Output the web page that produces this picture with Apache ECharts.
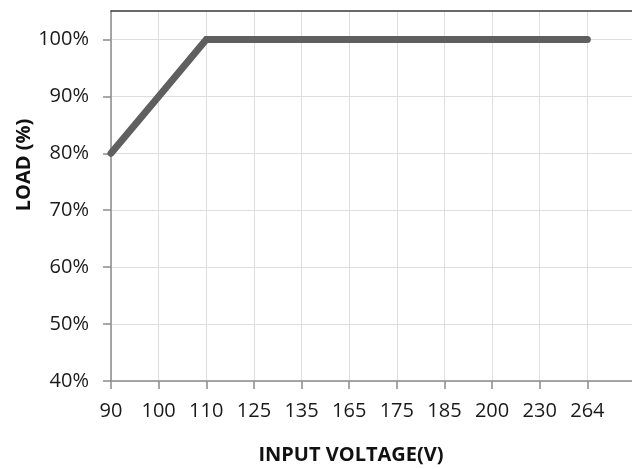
<!DOCTYPE html>
<html>
<head>
<meta charset="utf-8">
<script src="https://cdn.jsdelivr.net/npm/echarts@6/dist/echarts.min.js"></script>
<style>
html,body{margin:0;padding:0;background:#fff;}
#chart{width:632px;height:469px;}
</style>
</head>
<body>
<div id="chart"></div>
<script>
var categories = ['90','100','110','125','135','165','175','185','200','230','264'];
var loadValues = [80, 90, 100, 100, 100, 100, 100, 100, 100, 100, 100];
var yTickValues = [40, 50, 60, 70, 80, 90, 100];
var xTitle = 'INPUT VOLTAGE(V)';
var yTitle = 'LOAD (%)';

var axisCats = categories.concat(['']);
var FONT = '"Open Sans", "Noto Sans", sans-serif';

var chart = echarts.init(document.getElementById('chart'), null, {renderer: 'canvas'});
chart.setOption({
  animation: false,
  backgroundColor: '#ffffff',
  grid: {left: 111, top: 11, bottom: 88, width: 524, containLabel: false, outerBoundsMode: 'none'},
  xAxis: [{
    type: 'category',
    data: axisCats,
    boundaryGap: false,
    name: xTitle,
    nameLocation: 'middle',
    nameGap: 64,
    nameMoveOverlap: false,
    nameTextStyle: {fontFamily: FONT, fontWeight: 'bold', fontSize: 20, color: '#111', padding: [0, 44, 0, 0]},
    axisLine: {show: true, lineStyle: {color: '#8c8c8c', width: 1.5}},
    axisTick: {show: true, length: 8, lineStyle: {color: '#8c8c8c', width: 1.5}},
    axisLabel: {fontFamily: FONT, fontSize: 20, color: '#1a1a1a', margin: 20, interval: 0},
    splitLine: {show: true, lineStyle: {color: '#dedede', width: 1}}
  }, {
    type: 'category',
    data: axisCats,
    boundaryGap: false,
    position: 'top',
    axisLine: {show: true, lineStyle: {color: '#3a3a3a', width: 1.5}},
    axisTick: {show: false},
    axisLabel: {show: false},
    splitLine: {show: false}
  }],
  yAxis: {
    type: 'value',
    min: 40,
    max: 105,
    interval: 10,
    name: yTitle,
    nameLocation: 'middle',
    nameRotate: 90,
    nameGap: 77,
    nameMoveOverlap: false,
    nameTextStyle: {fontFamily: FONT, fontWeight: 'bold', fontSize: 20, color: '#111', padding: [0, 0, 0, 62]},
    axisLine: {show: true, lineStyle: {color: '#8c8c8c', width: 1.5}},
    axisTick: {show: true, length: 8, customValues: yTickValues, lineStyle: {color: '#8c8c8c', width: 1.5}},
    axisLabel: {fontFamily: FONT, fontSize: 20, color: '#1a1a1a', margin: 22, customValues: yTickValues, formatter: '{value}%'},
    splitLine: {show: true, lineStyle: {color: '#dedede', width: 1}}
  },
  series: [{
    type: 'line',
    data: loadValues,
    symbol: 'none',
    clip: true,
    lineStyle: {color: '#5f5f5f', width: 7, cap: 'round', join: 'miter'}
  }]
});
</script>
</body>
</html>
